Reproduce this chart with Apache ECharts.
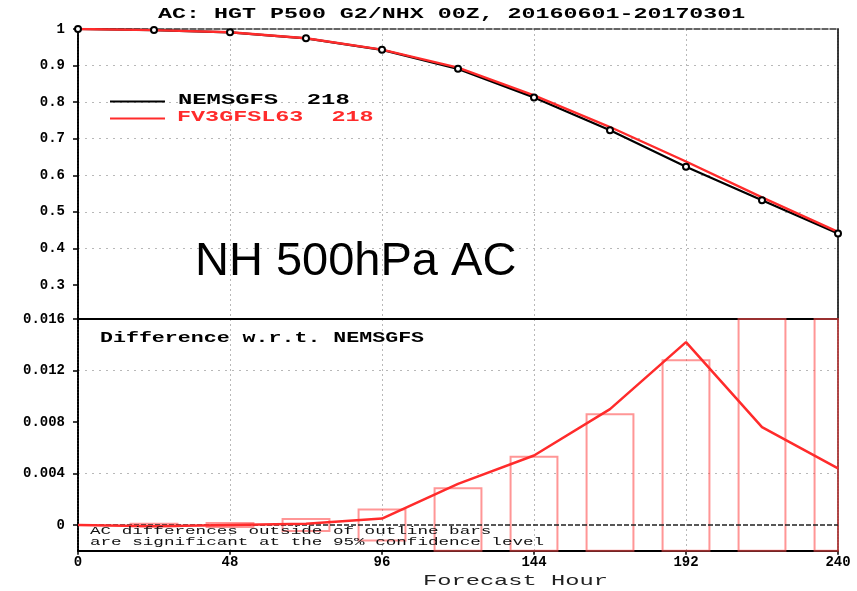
<!DOCTYPE html>
<html>
<head>
<meta charset="utf-8">
<title>AC: HGT P500 G2/NHX 00Z</title>
<script src="https://cdn.jsdelivr.net/npm/echarts@6/dist/echarts.min.js"></script>
<style>
  html, body { margin: 0; padding: 0; background: #fff; }
  #chart { width: 857px; height: 591px; }
</style>
</head>
<body>
<div id="chart"></div>
<script>
// Forecast hours (x) shared by both panels
const hours = [0, 24, 48, 72, 96, 120, 144, 168, 192, 216, 240];

// Anomaly correlation, 500 hPa height, northern hemisphere
const nemsgfsAC = [1.0, 0.997, 0.991, 0.9745, 0.943, 0.891, 0.813, 0.723, 0.6235, 0.532, 0.441];
const fv3gfsAC  = [1.0, 0.9969, 0.991, 0.9746, 0.9435, 0.8942, 0.8184, 0.732, 0.6377, 0.5396, 0.4454];

// FV3GFSL63 minus NEMSGFS, and the 95% confidence half-width at each hour
const acDiff   = [0, -0.0001, 0.0, 0.0001, 0.0005, 0.0032, 0.0054, 0.0090, 0.0142, 0.0076, 0.0044];
const diffConf = [0, 0.0001, 0.00015, 0.00046, 0.0012, 0.00285, 0.0053, 0.0086, 0.0128, 0.019, 0.023];

// Tick labels
const hourTicks = [0, 48, 96, 144, 192, 240];
const acTicks   = [0.3, 0.4, 0.5, 0.6, 0.7, 0.8, 0.9, 1];
const diffTicks = [0, 0.004, 0.008, 0.012, 0.016];

const seriesNames = ['NEMSGFS', 'FV3GFSL63'];
const caseCount = 218;

const RED = '#ff2b2b';
const BOX_RED = 'rgba(255,80,80,0.6)';
const GRID_GRAY = '#b8b8b8';
const BOX_HALF_HOURS = 7.4;
const MONO = '"Liberation Mono", "DejaVu Sans Mono", monospace';

const pairs = (ys) => hours.map((h, i) => [h, ys[i]]);
const isTick = (list, v) => list.some(t => Math.abs(t - v) < 1e-9);

const chart = echarts.init(document.getElementById('chart'), null, { renderer: 'canvas' });

const tickLabel = { fontFamily: MONO, fontWeight: 'bold', fontSize: 14, color: '#000' };

function fmtAC(v) {
  if (!isTick(acTicks, v)) return '';
  return Math.abs(v - 1) < 1e-9 ? '1' : v.toFixed(1);
}
function fmtDiff(v) {
  if (!isTick(diffTicks, v)) return '';
  return Math.abs(v) < 1e-9 ? '0' : v.toFixed(3);
}

function stretchedText(x, y, text, font, scaleX, fill, align) {
  return {
    type: 'text', x: x, y: y, scaleX: scaleX, silent: true, z: 20,
    style: {
      text: text, font: font, fill: fill,
      align: align || 'left', verticalAlign: 'middle',
      textAlign: align || 'left', textVerticalAlign: 'middle'
    }
  };
}

const option = {
  animation: false,
  backgroundColor: '#fff',
  grid: [
    { left: 78, width: 760, top: 29, height: 292.6, containLabel: false },
    { left: 78, width: 760, top: 319, height: 231.75, containLabel: false }
  ],
  xAxis: [
    { // upper panel, drawn as the top frame
      gridIndex: 0, type: 'value', position: 'top', min: 0, max: 240, interval: 48,
      axisLine: { show: true, onZero: false, lineStyle: { color: '#333', width: 1.5, type: [6, 2] } },
      axisTick: { show: false }, axisLabel: { show: false },
      splitLine: { show: true, showMinLine: false, showMaxLine: false,
        lineStyle: { color: GRID_GRAY, width: 1, type: [2, 3] } }
    },
    { // lower panel, forecast hour axis
      gridIndex: 1, type: 'value', position: 'bottom', min: 0, max: 240, interval: 48,
      axisLine: { show: true, onZero: false, lineStyle: { color: '#000', width: 2 } },
      axisTick: { show: true, length: 4, lineStyle: { color: '#000', width: 1.5 } },
      axisLabel: Object.assign({ margin: 5, formatter: v => String(v) }, tickLabel),
      splitLine: { show: true, showMinLine: false, showMaxLine: false,
        lineStyle: { color: GRID_GRAY, width: 1, type: [2, 3] } }
    },
    { // separator between the two panels
      gridIndex: 1, type: 'value', position: 'top', min: 0, max: 240,
      axisLine: { show: true, onZero: false, lineStyle: { color: '#000', width: 2 } },
      axisTick: { show: false }, axisLabel: { show: false }, splitLine: { show: false }
    }
  ],
  yAxis: [
    {
      gridIndex: 0, type: 'value', min: 0.2, max: 1, interval: 0.1,
      axisLine: { show: true, onZero: false, lineStyle: { color: '#000', width: 2, type: [2, 1] } },
      axisTick: { show: true, length: 5, customValues: acTicks, lineStyle: { color: '#000', width: 1.5 } },
      axisLabel: Object.assign({ margin: 13, customValues: acTicks, formatter: fmtAC }, tickLabel),
      splitLine: { show: true, showMinLine: false, showMaxLine: false,
        lineStyle: { color: GRID_GRAY, width: 1, type: [2, 5] } }
    },
    { // right frame of the upper panel
      gridIndex: 0, type: 'value', position: 'right', min: 0.2, max: 1, interval: 0.1,
      axisLine: { show: true, onZero: false, lineStyle: { color: '#333', width: 2, type: [2, 1] } },
      axisTick: { show: false }, axisLabel: { show: false }, splitLine: { show: false }
    },
    {
      gridIndex: 1, type: 'value', min: -0.002, max: 0.016, interval: 0.002,
      axisLine: { show: true, onZero: false, lineStyle: { color: '#000', width: 2, type: [2, 1] } },
      axisTick: { show: true, length: 5, customValues: diffTicks, lineStyle: { color: '#000', width: 1.5 } },
      axisLabel: Object.assign({ margin: 13, customValues: diffTicks, formatter: fmtDiff }, tickLabel),
      // every other 0.002 step carries a grid line: 0, 0.004, 0.008, ...
      splitLine: { show: true,
        lineStyle: { color: ['rgba(0,0,0,0)', GRID_GRAY], width: 1, type: [2, 5] } }
    },
    { // right frame of the lower panel
      gridIndex: 1, type: 'value', position: 'right', min: -0.002, max: 0.016,
      axisLine: { show: true, onZero: false, lineStyle: { color: '#333', width: 2, type: [2, 1] } },
      axisTick: { show: false }, axisLabel: { show: false }, splitLine: { show: false }
    }
  ],
  series: [
    {
      name: seriesNames[0], type: 'line', xAxisIndex: 0, yAxisIndex: 0,
      data: pairs(nemsgfsAC), showSymbol: false, symbol: 'none',
      lineStyle: { color: '#000', width: 2.2 }, z: 2, silent: true
    },
    {
      name: seriesNames[1], type: 'line', xAxisIndex: 0, yAxisIndex: 0,
      data: pairs(fv3gfsAC), showSymbol: false, symbol: 'none',
      lineStyle: { color: RED, width: 2.4 }, z: 3, silent: true
    },
    { // NEMSGFS markers sit above both curves
      name: seriesNames[0] + ' markers', type: 'line', xAxisIndex: 0, yAxisIndex: 0,
      data: pairs(nemsgfsAC), showSymbol: true, symbol: 'emptyCircle', symbolSize: 6,
      itemStyle: { color: '#000', borderColor: '#000', borderWidth: 1.5 },
      lineStyle: { width: 0, opacity: 0 }, z: 4, silent: true
    },
    { // confidence outline bars
      name: 'confidence', type: 'custom', xAxisIndex: 1, yAxisIndex: 2,
      data: pairs(diffConf), z: 2, silent: true,
      renderItem: function (params, api) {
        const h = api.value(0), c = api.value(1);
        if (!c) return null;
        const p0 = api.coord([h - BOX_HALF_HOURS, c]);
        const p1 = api.coord([h + BOX_HALF_HOURS, -c]);
        const cs = params.coordSys;
        const shape = echarts.graphic.clipRectByRect(
          { x: p0[0], y: p0[1], width: p1[0] - p0[0], height: p1[1] - p0[1] },
          { x: cs.x, y: cs.y, width: cs.width, height: cs.height }
        );
        if (!shape) return null;
        return { type: 'rect', shape: shape,
          style: { fill: 'transparent', stroke: BOX_RED, lineWidth: 2 } };
      }
    },
    {
      name: 'difference', type: 'line', xAxisIndex: 1, yAxisIndex: 2,
      data: pairs(acDiff), showSymbol: false, symbol: 'none',
      lineStyle: { color: RED, width: 2.5 }, z: 5, silent: true,
      markLine: {
        silent: true, symbol: 'none', label: { show: false },
        lineStyle: { color: '#222', width: 1.5, type: [5, 2] },
        data: [{ yAxis: 0 }]
      }
    }
  ],
  graphic: [
    stretchedText(451.7, 14, 'AC: HGT P500 G2/NHX 00Z, 20160601-20170301',
      'bold 14px ' + MONO, 1.664, '#000', 'center'),
    { type: 'line', silent: true, z: 20, shape: { x1: 110, y1: 101.5, x2: 165, y2: 101.5 },
      style: { stroke: '#000', lineWidth: 2 } },
    stretchedText(178, 100.5, seriesNames[0] + '  ' + caseCount, 'bold 15px ' + MONO, 1.59, '#000'),
    { type: 'line', silent: true, z: 20, shape: { x1: 110, y1: 118.5, x2: 165, y2: 118.5 },
      style: { stroke: RED, lineWidth: 2 } },
    stretchedText(177, 117, seriesNames[1] + '  ' + caseCount, 'bold 15px ' + MONO, 1.56, RED),
    {
      type: 'text', x: 195, y: 262, silent: true, z: 20,
      style: { text: 'NH 500hPa AC', font: '47px "Liberation Sans", Arial, sans-serif', fill: '#000',
        align: 'left', verticalAlign: 'middle', textAlign: 'left', textVerticalAlign: 'middle' }
    },
    stretchedText(100, 338.5, 'Difference w.r.t. ' + seriesNames[0], 'bold 15px ' + MONO, 1.44, '#000'),
    stretchedText(90, 530.7, 'AC differences outside of outline bars', '11px ' + MONO, 1.6, '#111'),
    stretchedText(90, 541.7, 'are significant at the 95% confidence level', '11px ' + MONO, 1.6, '#111'),
    stretchedText(423, 581, 'Forecast Hour', '15px ' + MONO, 1.58, '#222')
  ]
};

chart.setOption(option);
</script>
</body>
</html>
